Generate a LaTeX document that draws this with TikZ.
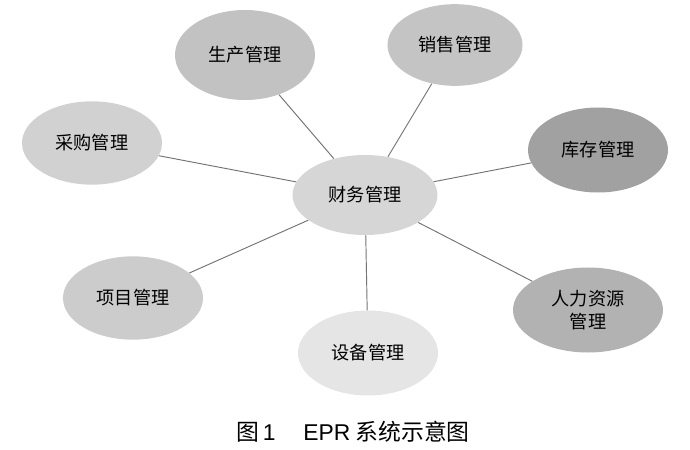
\documentclass[tikz,border=0pt]{standalone}
\usepackage{fontspec}
\setmainfont{Noto Sans CJK SC}
\setsansfont{Liberation Sans}
\definecolor{ellgray}{RGB}{115,115,115}
\usetikzlibrary{shapes.geometric}
\tikzset{
  module/.style={ellipse,minimum width=4.2cm,minimum height=2.5cm,inner sep=0pt,
    align=center,font=\fontsize{15.5}{20}\selectfont},
  link/.style={draw=ellgray,line width=0.8pt}
}

\begin{document}
\begin{tikzpicture}[x=0.03cm,y=-0.03cm]
  \useasboundingbox (0,0) rectangle (690,450);
  % outer modules
  \node[module,fill=black!24,minimum height=2.7cm] (prod) at (245,55) {生产管理};
  \node[module,fill=black!23,minimum width=4.05cm,minimum height=2.45cm] (sale) at (455,45) {销售管理};
  \node[module,fill=black!18] (buy) at (92,143) {采购管理};
  \node[module,fill=black!37,minimum height=2.55cm] (stock) at (598,150) {库存管理};
  \node[module,fill=black!16,minimum width=4.35cm,minimum height=2.4cm] (fin) at (365,195) {财务管理};
  \node[module,fill=black!20] (proj) at (133,298) {项目管理};
  \node[module,fill=black!30,minimum width=4.5cm,minimum height=2.55cm] (hr) at (588,310) {人力资源\\管理};
  \node[module,fill=black!10,minimum height=2.55cm] (equip) at (368,353) {设备管理};
  % links
  \draw[link] (fin) -- (prod);
  \draw[link] (fin) -- (sale);
  \draw[link] (fin) -- (buy);
  \draw[link] (fin) -- (stock);
  \draw[link] (fin) -- (proj);
  \draw[link] (fin) -- (hr);
  \draw[link] (fin) -- (equip);
  % caption
  \node[font=\fontsize{19.5}{22}\selectfont] (cap) at (353,432) {图\,{\sffamily 1}\quad\ {\sffamily EPR} 系统示意图};
\end{tikzpicture}
\end{document}
